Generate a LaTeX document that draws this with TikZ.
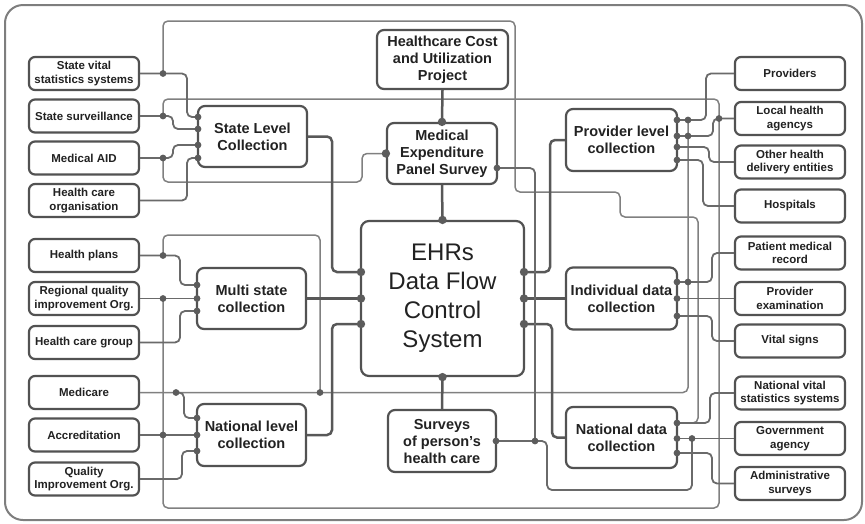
\documentclass[tikz,border=0pt]{standalone}
\usepackage{fontspec}
\setmainfont{Liberation Sans}
\definecolor{boxc}{HTML}{525252}
\definecolor{txtc}{HTML}{222222}
\definecolor{mainc}{HTML}{585858}
\definecolor{connc}{HTML}{6A6A6A}
\definecolor{wirec}{HTML}{808080}
\definecolor{dotc}{HTML}{5C5C5C}
\definecolor{framec}{HTML}{7E7E7E}
\begin{document}
\begin{tikzpicture}[x=1pt,y=-1pt,
  sbox/.style={draw=boxc, line width=2.2pt, fill=white, rounded corners=6pt,
    minimum width=110pt, minimum height=33pt, inner sep=0pt, align=center,
    text=txtc, font=\bfseries\fontsize{11.5}{13.5}\selectfont},
  mbox/.style={sbox, rounded corners=7pt, font=\bfseries\fontsize{14.5}{17}\selectfont},
  ebox/.style={sbox, rounded corners=8pt, minimum width=163pt, minimum height=155pt,
    font=\fontsize{24}{29}\selectfont},
  main/.style={draw=mainc, line width=2.5pt, rounded corners=5pt},
  conn/.style={draw=connc, line width=1.8pt, rounded corners=5pt},
  wire/.style={draw=wirec, line width=1.5pt, rounded corners=5pt},
  dot/.style={fill=dotc},
]
\useasboundingbox (0,0) rectangle (865,523);
\draw[framec, line width=2pt, rounded corners=18pt] (5,5) rectangle (862,520);

% ---- sources on the left
\node[sbox] (sv)  at (84,73.5)  {State vital\\statistics systems};
\node[sbox] (ss)  at (84,116)   {State surveillance};
\node[sbox] (ma)  at (84,158)   {Medical AID};
\node[sbox] (hco) at (84,200.5) {Health care\\organisation};
\node[sbox] (hp)  at (84,255.5) {Health plans};
\node[sbox] (rq)  at (84,298.5) {Regional quality\\improvement Org.};
\node[sbox] (hcg) at (84,342.5) {Health care group};
\node[sbox] (mc)  at (84,392.5) {Medicare};
\node[sbox] (ac)  at (84,435)   {Accreditation};
\node[sbox] (qi)  at (84,479)   {Quality\\Improvement Org.};

% ---- collection levels
\node[mbox, minimum width=109pt, minimum height=61pt] (slc) at (252.5,136.5) {State Level\\Collection};
\node[mbox, minimum width=109pt, minimum height=61pt] (msc) at (251.5,298.5) {Multi state\\collection};
\node[mbox, minimum width=109pt, minimum height=62pt] (nlc) at (251.5,435)   {National level\\collection};

% ---- centre column
\node[mbox, minimum width=131pt, minimum height=59pt] (hcup) at (442.5,59.5) {Healthcare Cost\\and Utilization\\Project};
\node[mbox, minimum width=110pt, minimum height=61pt] (mep) at (442,153.5) {Medical\\Expenditure\\Panel Survey};
\node[ebox] (ehr) at (442.5,298.5) {EHRs\\Data Flow\\Control\\System};
\node[mbox, minimum width=108pt, minimum height=62pt] (sph) at (442,441) {Surveys\\of person's\\health care};

% ---- data collection
\node[mbox, minimum width=111pt, minimum height=62pt] (plc) at (621.5,140)   {Provider level\\collection};
\node[mbox, minimum width=111pt, minimum height=62pt] (idc) at (621.5,298.5) {Individual data\\collection};
\node[mbox, minimum width=111pt, minimum height=61pt] (ndc) at (621.5,437.5) {National data\\collection};

% ---- sources on the right
\node[sbox] (pr)  at (790,73.5)  {Providers};
\node[sbox] (lha) at (790,118.5) {Local health\\agencys};
\node[sbox] (ohd) at (790,162)   {Other health\\delivery entities};
\node[sbox] (hos) at (790,206)   {Hospitals};
\node[sbox] (pmr) at (790,253)   {Patient medical\\record};
\node[sbox] (pe)  at (790,298.5) {Provider\\examination};
\node[sbox] (vs)  at (790,341)   {Vital signs};
\node[sbox] (nvs) at (790,393)   {National vital\\statistics systems};
\node[sbox] (ga)  at (790,438.5) {Government\\agency};
\node[sbox] (as)  at (790,483.5) {Administrative\\surveys};

% ---- junction points
\coordinate (j1) at (163,73.5);
\coordinate (j2) at (163,116);
\coordinate (j3) at (163,158);
\coordinate (s1) at (198,117);
\coordinate (s2) at (198,129);
\coordinate (s3) at (198,145);
\coordinate (s4) at (198,158);
\coordinate (jhp) at (163,255.5);
\coordinate (jrq) at (163,298.5);
\coordinate (m1) at (197,285);
\coordinate (m2) at (197,298.5);
\coordinate (m3) at (197,311);
\coordinate (jmc1) at (176,392.5);
\coordinate (jmc2) at (320,392.5);
\coordinate (jac) at (163,435);
\coordinate (nl1) at (197,418);
\coordinate (nl2) at (197,435);
\coordinate (nl3) at (197,451);
\coordinate (e1) at (361,272);
\coordinate (e2) at (361,298.5);
\coordinate (e3) at (361,324);
\coordinate (e4) at (524,272);
\coordinate (e5) at (524,298.5);
\coordinate (e6) at (524,324);
\coordinate (mepR) at (497,168);
\coordinate (sphR) at (496,441);
\coordinate (jsp) at (535,441);
\coordinate (p1) at (677,120);
\coordinate (p2) at (677,136);
\coordinate (p3) at (677,147);
\coordinate (p4) at (677,160);
\coordinate (jp1) at (688,120);
\coordinate (jp2) at (688,136);
\coordinate (jlh) at (719,118.5);
\coordinate (i1) at (677,282);
\coordinate (i2) at (677,298.5);
\coordinate (i3) at (677,316);
\coordinate (ji1) at (688,282);
\coordinate (n1) at (677,423);
\coordinate (n2) at (677,438.5);
\coordinate (n3) at (677,453);
\coordinate (jga) at (692,438.5);

% ---- long distribution wires
\draw[wire] (j1) -- (163,21) -- (515,21) -- (515,192) -- (620,192) -- (620,217) -- (698,217) -- (698,423) -- (n1);
\draw[wire] (j2) -- (163,99) -- (719,99) -- (719,508) -- (163,508) -- (jrq);
\draw[wire] (j3) -- (163,182) -- (362,182) -- (362,153.5) -- (mep.west);
\draw[wire] (jhp) -- (163,235) -- (320,235) -- (jmc2);
\draw[wire] (mc.east) -- (688,392.5) -- (jp1);

% ---- state level inputs
\draw[conn] (sv.east) -- (187,73.5) -- (187,117) -- (s1);
\draw[conn] (ss.east) -- (173,116) -- (173,129) -- (s2);
\draw[conn] (ma.east) -- (173,158) -- (173,145) -- (s3);
\draw[conn] (hco.east) -- (187,200.5) -- (187,158) -- (s4);

% ---- multi state inputs
\draw[conn] (hp.east) -- (180,255.5) -- (180,285) -- (m1);
\draw[conn] (rq.east) -- (m2);
\draw[conn] (hcg.east) -- (180,342.5) -- (180,311) -- (m3);

% ---- national level inputs
\draw[conn] (jmc1) -- (184,392.5) -- (184,418) -- (nl1);
\draw[conn] (ac.east) -- (nl2);
\draw[conn] (qi.east) -- (182,479) -- (182,451) -- (nl3);

% ---- into the control system
\draw[main] (slc.east) -- (332,136.5) -- (332,272) -- (e1);
\draw[main] (msc.east) -- (e2);
\draw[main] (nlc.east) -- (332,435) -- (332,324) -- (e3);
\draw[main] (hcup.south) -- (mep.north);
\draw[main] (mep.south) -- (ehr.north);
\draw[main] (ehr.south) -- (sph.north);
\draw[main] (e4) -- (550,272) -- (550,140) -- (plc.west);
\draw[main] (e5) -- (idc.west);
\draw[main] (e6) -- (552,324) -- (552,437.5) -- (ndc.west);

% ---- survey links
\draw[conn] (mepR) -- (535,168) -- (jsp);
\draw[conn] (sphR) -- (547,441) -- (547,490) -- (692,490) -- (jga);

% ---- provider level outputs
\draw[conn] (p1) -- (706,120) -- (706,73.5) -- (pr.west);
\draw[conn] (p2) -- (713,136) -- (713,118.5) -- (lha.west);
\draw[conn] (p3) -- (709,147) -- (709,162) -- (ohd.west);
\draw[conn] (p4) -- (703,160) -- (703,206) -- (hos.west);

% ---- individual data outputs
\draw[conn] (i1) -- (712,282) -- (712,253) -- (pmr.west);
\draw[conn] (i2) -- (pe.west);
\draw[conn] (i3) -- (712,316) -- (712,341) -- (vs.west);

% ---- national data outputs
\draw[conn] (n1) -- (710,423) -- (710,393) -- (nvs.west);
\draw[conn] (n2) -- (ga.west);
\draw[conn] (n3) -- (712,453) -- (712,483.5) -- (as.west);

% ---- junction dots
\foreach \p in {j1,j2,j3,s1,s2,s3,s4,jhp,jrq,m1,m2,m3,jmc1,jmc2,jac,nl1,nl2,nl3,
                mepR,sphR,jsp,p1,p2,p3,p4,jp1,jp2,jlh,i1,i2,i3,ji1,n1,n2,n3,jga}
  \fill[dot] (\p) circle[radius=3.4pt];
\foreach \p in {e1,e2,e3,e4,e5,e6,ehr.north,ehr.south,mep.north,mep.west}
  \fill[dot] (\p) circle[radius=4.2pt];
\end{tikzpicture}
\end{document}
